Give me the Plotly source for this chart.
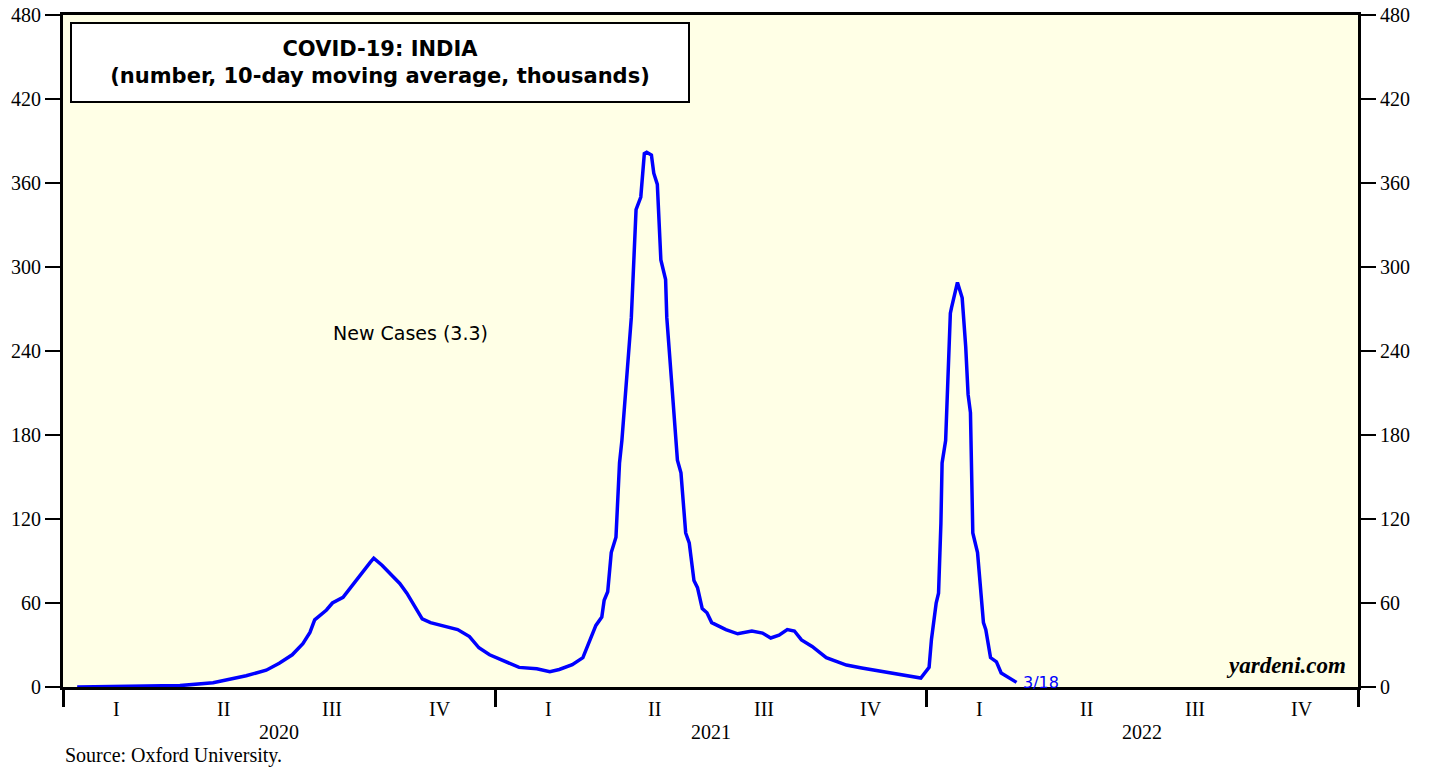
"""COVID-19 India new cases, 10-day moving average (thousands)."""
import plotly.graph_objects as go

# data
dates = [
    "2020-01-13", "2020-03-14", "2020-04-09", "2020-05-07", "2020-06-04", "2020-06-21",
    "2020-07-02", "2020-07-13", "2020-07-22", "2020-07-28", "2020-08-01", "2020-08-11",
    "2020-08-16", "2020-08-25", "2020-09-02", "2020-09-06", "2020-09-10", "2020-09-14",
    "2020-09-17", "2020-09-20", "2020-09-27", "2020-10-05", "2020-10-12", "2020-10-18",
    "2020-10-26", "2020-10-31", "2020-11-07", "2020-11-20", "2020-11-30", "2020-12-10",
    "2020-12-18", "2020-12-27", "2021-01-07", "2021-01-21", "2021-02-05", "2021-02-16",
    "2021-02-24", "2021-03-07", "2021-03-16", "2021-03-20", "2021-03-24", "2021-03-27",
    "2021-04-01", "2021-04-03", "2021-04-06", "2021-04-09", "2021-04-13", "2021-04-16",
    "2021-04-18", "2021-04-22", "2021-04-26", "2021-04-30", "2021-05-04", "2021-05-07",
    "2021-05-09", "2021-05-13", "2021-05-15", "2021-05-18", "2021-05-21", "2021-05-25",
    "2021-05-26", "2021-05-30", "2021-06-04", "2021-06-07", "2021-06-11", "2021-06-14",
    "2021-06-18", "2021-06-21", "2021-06-25", "2021-06-29", "2021-07-03", "2021-07-15",
    "2021-07-25", "2021-08-06", "2021-08-15", "2021-08-22", "2021-08-29", "2021-09-05",
    "2021-09-11", "2021-09-17", "2021-09-26", "2021-10-08", "2021-10-16", "2021-10-25",
    "2021-11-07", "2021-11-22", "2021-12-06", "2021-12-17", "2021-12-27", "2022-01-03",
    "2022-01-05", "2022-01-09", "2022-01-11", "2022-01-13", "2022-01-14", "2022-01-17",
    "2022-01-19", "2022-01-21", "2022-01-22", "2022-01-27", "2022-01-31", "2022-02-03",
    "2022-02-05", "2022-02-07", "2022-02-09", "2022-02-13", "2022-02-18", "2022-02-20",
    "2022-02-24", "2022-03-01", "2022-03-05", "2022-03-11", "2022-03-18",
]
new_cases = [
    0.0, 0.3, 1.0, 3.0, 8.0, 12.0,
    17.0, 23.0, 31.0, 39.0, 48.0, 55.0,
    60.0, 64.0, 73.0, 77.0, 81.0, 86.0,
    89.0, 92.0, 87.0, 80.0, 74.0, 67.0,
    55.0, 48.6, 46.0, 43.0, 41.0, 36.0,
    28.0, 23.0, 19.0, 14.0, 13.0, 11.0,
    12.5, 16.0, 21.0, 29.0, 37.0, 44.0,
    50.0, 62.0, 68.0, 96.0, 107.0, 160.0,
    176.0, 219.0, 264.0, 341.0, 350.0, 381.0,
    382.0, 380.0, 367.0, 359.0, 305.0, 291.0,
    264.0, 219.0, 162.0, 153.0, 110.0, 103.0,
    76.0, 71.0, 56.0, 53.0, 46.0, 41.0,
    38.0, 40.0, 38.5, 35.0, 37.0, 41.0,
    40.0, 33.6, 29.0, 21.0, 18.6, 15.7,
    13.6, 11.4, 9.3, 8.0, 6.4, 14.0,
    34.0, 60.0, 67.0, 117.0, 160.0, 176.0,
    219.0, 267.0, 271.0, 289.0, 278.0, 243.0,
    209.0, 196.0, 110.0, 96.0, 46.0, 41.0,
    21.0, 18.0, 10.0, 7.0, 3.3,
]
years = [2020, 2021, 2022]
quarters = ["I", "II", "III", "IV"]
quarter_mid = ["02-15", "05-16", "08-16", "11-15"]
y_ticks = list(range(0, 481, 60))

SERIF = "Liberation Serif, Times New Roman, serif"
SANS = "DejaVu Sans, Arial, sans-serif"

fig = go.Figure()
fig.add_trace(go.Scatter(
    x=dates, y=new_cases,
    mode="lines",
    line=dict(color="#0000ff", width=3.5),
    hoverinfo="x+y",
    showlegend=False,
))
# invisible trace so the right axis is drawn
fig.add_trace(go.Scatter(
    x=[dates[0]], y=[0], yaxis="y2", mode="markers",
    marker=dict(opacity=0), showlegend=False, hoverinfo="skip",
))

year_starts = [f"{y}-01-01" for y in years] + [f"{years[-1] + 1}-01-01"]

axis_common = dict(
    range=[0, 480],
    tickvals=y_ticks,
    ticks="outside",
    ticklen=15,
    tickwidth=1.5,
    tickcolor="black",
    tickfont=dict(family=SERIF, size=20, color="black"),
    ticklabeloverflow="allow",
    showgrid=False,
    zeroline=False,
    showline=True,
    linecolor="black",
    linewidth=3,
    automargin=False,
)

fig.update_layout(
    width=1432,
    height=770,
    margin=dict(l=63, r=74, t=15, b=83),
    paper_bgcolor="white",
    plot_bgcolor="#ffffe6",
    xaxis=dict(
        type="date",
        range=[year_starts[0], year_starts[-1]],
        tickvals=year_starts,
        ticktext=["" for _ in year_starts],
        ticks="outside",
        ticklen=17,
        tickwidth=3,
        tickcolor="black",
        showgrid=False,
        zeroline=False,
        showline=True,
        linecolor="black",
        linewidth=3,
        mirror=True,
        automargin=False,
    ),
    yaxis=dict(side="left", **axis_common),
    yaxis2=dict(side="right", overlaying="y", **axis_common),
)

# quarter and year labels under the axis
for yr in years:
    for q, md in zip(quarters, quarter_mid):
        fig.add_annotation(
            x=f"{yr}-{md}", y=0, xref="x", yref="paper",
            text=q, showarrow=False, yanchor="top", yshift=-9,
            font=dict(family=SERIF, size=20, color="black"),
        )
    fig.add_annotation(
        x=f"{yr}-07-02", y=0, xref="x", yref="paper",
        text=str(yr), showarrow=False, yanchor="top", yshift=-32,
        font=dict(family=SERIF, size=20, color="black"),
    )

fig.add_annotation(
    x=0, y=0, xref="paper", yref="paper",
    text="Source: Oxford University.", showarrow=False,
    xanchor="left", yanchor="top", yshift=-55,
    font=dict(family=SERIF, size=20, color="black"),
)

# title box
fig.add_annotation(
    x=0.0054, y=0.9896, xref="paper", yref="paper",
    xanchor="left", yanchor="top",
    text="<b>COVID-19: INDIA<br>(number, 10-day moving average, thousands)</b>",
    showarrow=False, align="center",
    width=614, height=75,
    bgcolor="white", bordercolor="black", borderwidth=2,
    font=dict(family=SANS, size=21, color="black"),
)

fig.add_annotation(
    x="2020-10-21", y=253, xref="x", yref="y",
    text="New Cases (3.3)", showarrow=False,
    font=dict(family=SANS, size=19, color="black"),
)

fig.add_annotation(
    x=dates[-1], y=new_cases[-1], xref="x", yref="y",
    text="3/18", showarrow=False, xanchor="left", xshift=4,
    font=dict(family=SANS, size=16, color="#0000ff"),
)

fig.add_annotation(
    x=0.992, y=0.01, xref="paper", yref="paper",
    text="<b><i>yardeni.com</i></b>", showarrow=False,
    xanchor="right", yanchor="bottom",
    font=dict(family=SERIF, size=23, color="black"),
)

# drop the default 8px body margin so the figure fills the window
fig.write_html(
    "out.html",
    config={"displayModeBar": False},
    post_script="document.body.style.margin = '0';",
)
